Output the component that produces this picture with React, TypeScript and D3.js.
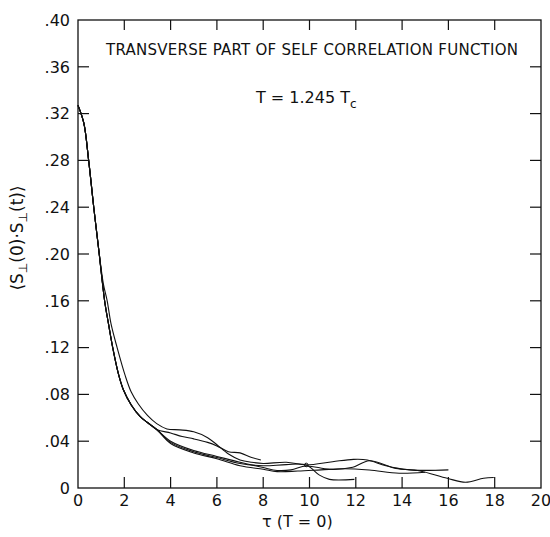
import React from "react";
import * as d3 from "d3";

const W = 550;
const H = 537;

// Tick values / labels
const xTicks = [0, 2, 4, 6, 8, 10, 12, 14, 16, 18, 20];
const yTicks = [0, 0.04, 0.08, 0.12, 0.16, 0.2, 0.24, 0.28, 0.32, 0.36, 0.4];
const yTickLabels = ["0", ".04", ".08", ".12", ".16", ".20", ".24", ".28", ".32", ".36", ".40"];

// Shared start of the decay
const headX = [0, 0.25, 0.46, 0.68, 0.9];
const headY = [0.327, 0.312, 0.28, 0.24, 0.203];

// Curve A: outer branch, upper hump, ends at 16
const curveAx = [1.1, 1.26, 1.43, 1.69, 2.04, 2.3, 2.6, 3.0, 3.4, 3.84, 4.4, 5.0, 5.6, 6.0, 6.5, 7.0, 7.5, 8.0, 9.0, 9.86, 11.0, 11.9, 12.5, 13.3, 14.3, 16.0];
const curveAy = [0.174, 0.16, 0.14, 0.12, 0.096, 0.082, 0.072, 0.062, 0.055, 0.0505, 0.0497, 0.048, 0.043, 0.037, 0.029, 0.024, 0.022, 0.021, 0.022, 0.0197, 0.0225, 0.0245, 0.024, 0.019, 0.0155, 0.0155];

// Inner branch, common part
const innerX = [1.15, 1.32, 1.5, 1.74, 1.96, 2.3, 2.69, 3.0, 3.4];
const innerY = [0.16, 0.14, 0.12, 0.098, 0.084, 0.071, 0.061, 0.056, 0.05];

// Curve D: lower side of the lens, ends near 8
const curveDx = [4.0, 4.5, 5.0, 5.6, 6.0, 6.5, 7.0, 7.5, 7.9];
const curveDy = [0.047, 0.044, 0.042, 0.039, 0.036, 0.031, 0.03, 0.026, 0.024];

// Curve B: ends at 18
const curveBx = [4, 5, 6, 7, 8, 8.6, 9.2, 9.86, 10.86, 11.87, 12.58, 13.73, 14.73, 15.95, 16.74, 17.52, 17.96];
const curveBy = [0.04, 0.032, 0.027, 0.022, 0.0175, 0.015, 0.0155, 0.0188, 0.016, 0.0177, 0.0233, 0.0168, 0.0148, 0.0083, 0.0049, 0.0083, 0.009];

// Curve C: ends at 12
const curveCx = [4, 5, 6, 7, 8, 9, 9.86, 10.43, 10.86, 11.94];
const curveCy = [0.039, 0.031, 0.026, 0.021, 0.019, 0.02, 0.0197, 0.011, 0.0074, 0.0074];

// Curve E: ends near 15
const curveEx = [4, 5, 6, 7, 8, 8.6, 9.5, 10.5, 11.5, 12.58, 13.87, 15.0];
const curveEy = [0.038, 0.03, 0.025, 0.019, 0.016, 0.014, 0.0145, 0.0155, 0.0165, 0.0154, 0.0126, 0.0135];

const zip = (xs: number[], ys: number[]) => xs.map((x, i) => [x, ys[i]] as [number, number]);

export default function App() {
  const left = 78, right = 541, top = 20, bottom = 488;
  const x = d3.scaleLinear().domain([0, 20]).range([left, right]);
  const y = d3.scaleLinear().domain([0, 0.4]).range([bottom, top]);

  const head = zip(headX, headY);
  const inner = [...head, ...zip(innerX, innerY)];
  const series = [
    [...head, ...zip(curveAx, curveAy)],
    [...inner, ...zip(curveDx, curveDy)],
    [...inner, ...zip(curveBx, curveBy)],
    [...inner, ...zip(curveCx, curveCy)],
    [...inner, ...zip(curveEx, curveEy)],
  ];

  const line = d3
    .line<[number, number]>()
    .x((d) => x(d[0]))
    .y((d) => y(d[1]))
    .curve(d3.curveCatmullRom.alpha(0.5));

  const font = "'DejaVu Sans', sans-serif";
  const innerTicksX = xTicks.filter((t) => t > 0 && t < 20);
  const innerTicksY = yTicks.filter((t) => t > 0 && t < 0.4);

  return (
    <svg
      width={W}
      height={H}
      style={{ position: "absolute", left: 0, top: 0, background: "#fff" }}
      fontFamily={font}
    >
      <rect x={0} y={0} width={W} height={H} fill="#fff" />
      {/* frame */}
      <rect x={left} y={top} width={right - left} height={bottom - top} fill="none" stroke="#111" strokeWidth={1.3} />
      {/* ticks */}
      {innerTicksX.map((t) => (
        <g key={"xt" + t}>
          <line x1={x(t)} x2={x(t)} y1={bottom} y2={bottom - 11} stroke="#111" strokeWidth={1.2} />
          <line x1={x(t)} x2={x(t)} y1={top} y2={top + 10} stroke="#111" strokeWidth={1.2} />
        </g>
      ))}
      {innerTicksY.map((t) => (
        <g key={"yt" + t}>
          <line x1={left} x2={left + 11} y1={y(t)} y2={y(t)} stroke="#111" strokeWidth={1.2} />
          <line x1={right} x2={right - 11} y1={y(t)} y2={y(t)} stroke="#111" strokeWidth={1.2} />
        </g>
      ))}
      {/* tick labels */}
      {yTicks.map((t, i) => (
        <text key={"yl" + t} x={70} y={y(t)} dy="0.36em" textAnchor="end" fontSize={16} fill="#111">
          {yTickLabels[i]}
        </text>
      ))}
      {xTicks.map((t) => (
        <text key={"xl" + t} x={x(t)} y={506} textAnchor="middle" fontSize={16} fill="#111">
          {String(t)}
        </text>
      ))}
      {/* curves */}
      {series.map((s, i) => (
        <path key={"c" + i} d={line(s) || ""} fill="none" stroke="#111" strokeWidth={1.1} />
      ))}
      <circle cx={x(9.86)} cy={y(0.0197)} r={1.8} fill="none" stroke="#111" strokeWidth={1} />
      {/* title */}
      <text x={106} y={55} fontSize={15} fill="#111" textLength={412} lengthAdjust="spacing">
        TRANSVERSE PART OF SELF CORRELATION FUNCTION
      </text>
      <text x={256} y={103} fontSize={16} fill="#111">
        T = 1.245 T
        <tspan fontSize={12} dy={5}>c</tspan>
      </text>
      {/* x label */}
      <text x={262} y={527} fontSize={16} fill="#111">
        τ (T = 0)
      </text>
      {/* y label */}
      <text transform="translate(23,238) rotate(-90)" textAnchor="middle" fontSize={17} fill="#111">
        ⟨S<tspan fontSize={12} dy={4}>⊥</tspan>
        <tspan dy={-4}>(0)·S</tspan>
        <tspan fontSize={12} dy={4}>⊥</tspan>
        <tspan dy={-4}>(t)⟩</tspan>
      </text>
    </svg>
  );
}
